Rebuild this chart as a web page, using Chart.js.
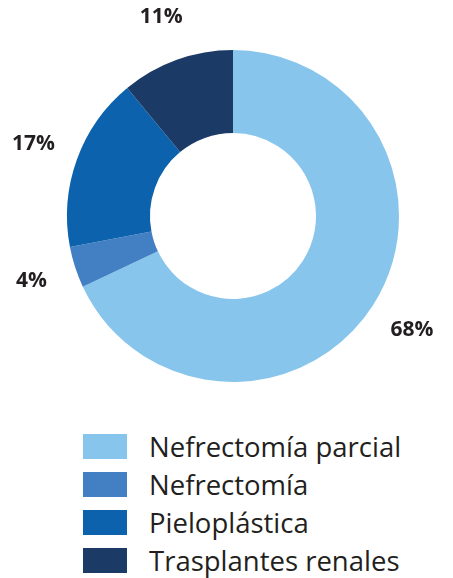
<!DOCTYPE html>
<html>
<head>
<meta charset="utf-8">
<script src="https://cdn.jsdelivr.net/npm/chart.js@4.4.0/dist/chart.umd.min.js"></script>
<style>
  body { margin: 0; background: #fff; width: 453px; height: 578px; overflow: hidden; position: relative; }
  #wrap { position: absolute; left: 0; top: 0; width: 453px; height: 400px; }
  #legend { position: absolute; left: 83px; top: 434px; margin: 0; padding: 0; list-style: none;
    font-family: 'Open Sans', sans-serif; font-size: 27.5px; color: #231f20; }
  #legend li { height: 38px; position: relative; white-space: nowrap; }
  #legend span.box { position: absolute; left: 0; top: 0; width: 44px; height: 25px; }
  #legend span.txt { position: absolute; left: 66px; top: -5px; line-height: 36px; }
</style>
</head>
<body>
<div id="wrap"><canvas id="pieChart"></canvas></div>
<ul id="legend"></ul>
<script>
'use strict';

// Data
let labels = ['Nefrectomía parcial', 'Nefrectomía', 'Pieloplástica', 'Trasplantes renales'];
let values = [68, 4, 17, 11];
let colors = ['#88c5ec', '#437fc3', '#0c62ad', '#1b3a66'];

// Percent labels outside the ring
const outsideLabels = {
  id: 'outsideLabels',
  afterDatasetsDraw(chart) {
    let ctx = chart.ctx;
    let meta = chart.getDatasetMeta(0);
    ctx.save();
    ctx.font = 'bold 21px "Open Sans", sans-serif';
    ctx.fillStyle = '#231f20';
    ctx.textAlign = 'center';
    ctx.textBaseline = 'middle';
    meta.data.forEach((arc, i) => {
      let p = arc.getProps(['x', 'y', 'startAngle', 'endAngle', 'outerRadius'], true);
      let mid = (p.startAngle + p.endAngle) / 2;
      let r = p.outerRadius + 46;
      ctx.fillText(values[i] + '%', p.x + Math.cos(mid) * r, p.y + Math.sin(mid) * r);
    });
    ctx.restore();
  }
};

const ctx = document.getElementById('pieChart');
new Chart(ctx, {
  type: 'doughnut',
  data: {
    labels: labels,
    datasets: [{
      data: values,
      backgroundColor: colors,
      borderWidth: 0
    }]
  },
  options: {
    responsive: true,
    maintainAspectRatio: false,
    animation: false,
    cutout: '50%',
    layout: {
      padding: { left: 67, right: 54, top: 50, bottom: 18 }
    },
    plugins: {
      legend: { display: false },
      tooltip: { enabled: false }
    }
  },
  plugins: [outsideLabels]
});

// Legend
let legend = document.getElementById('legend');
for (let i = 0; i < labels.length; i++) {
  let li = document.createElement('li');
  let box = document.createElement('span');
  box.className = 'box';
  box.style.background = colors[i];
  let txt = document.createElement('span');
  txt.className = 'txt';
  txt.textContent = labels[i];
  li.appendChild(box);
  li.appendChild(txt);
  legend.appendChild(li);
}
</script>
</body>
</html>
